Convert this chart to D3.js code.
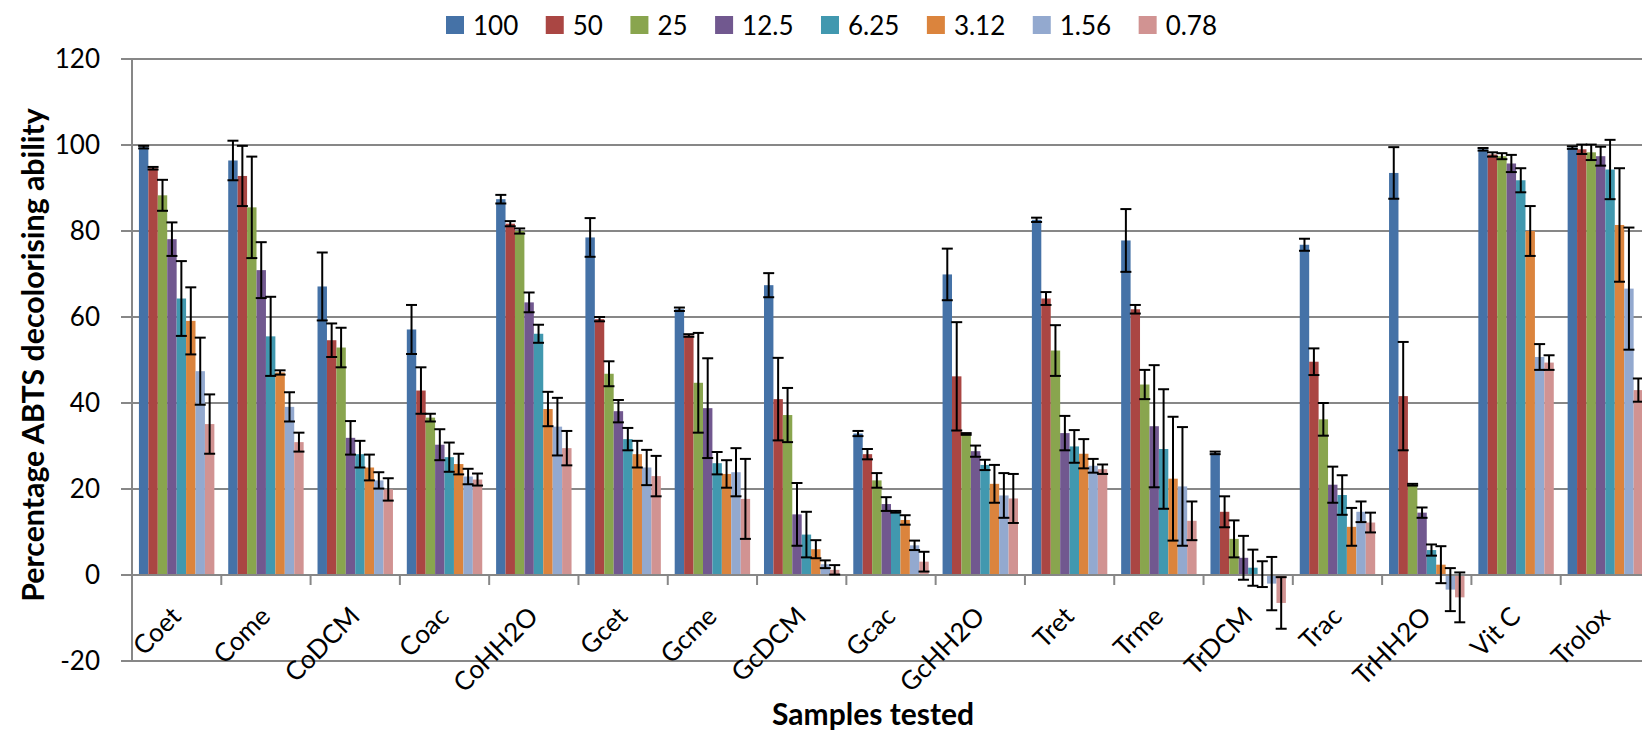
<!DOCTYPE html>
<html>
<head>
<meta charset="utf-8">
<script src="https://cdn.jsdelivr.net/npm/d3@7"></script>
<style>
  body { margin: 0; background: #fff; }
  svg { display: block; }
</style>
</head>
<body>
<div id="wrapper"></div>
<script>
// Samples (x categories) and concentrations (series)
const categories = ["Coet", "Come", "CoDCM", "Coac", "CoHH2O", "Gcet", "Gcme", "GcDCM", "Gcac",
    "GcHH2O", "Tret", "Trme", "TrDCM", "Trac", "TrHH2O", "Vit C", "Trolox"];
const seriesNames = ["100", "50", "25", "12.5", "6.25", "3.12", "1.56", "0.78"];
const yTicks = [-20, 0, 20, 40, 60, 80, 100, 120];

// mean values per concentration, one entry per sample
const mean100 = [99.5, 96.4, 67.1, 57.1, 87.4, 78.5, 61.8, 67.4, 32.9, 69.9, 82.6, 77.8, 28.4, 76.8, 93.5, 99.0, 99.4];
const mean50 = [94.6, 92.8, 54.6, 42.9, 81.7, 59.5, 55.7, 40.9, 28.1, 46.2, 64.3, 61.8, 14.7, 49.6, 41.6, 97.8, 99.0];
const mean25 = [88.3, 85.5, 52.9, 36.6, 80.0, 46.8, 44.7, 37.2, 22.0, 32.8, 52.2, 44.3, 8.4, 36.2, 21.0, 97.4, 98.3];
const mean12_5 = [78.1, 70.9, 31.9, 30.3, 63.4, 38.1, 38.8, 14.1, 16.5, 28.8, 33.0, 34.6, 4.0, 21.0, 14.5, 95.7, 97.4];
const mean6_25 = [64.3, 55.5, 28.1, 27.4, 56.1, 31.6, 26.0, 9.4, 14.7, 25.6, 29.9, 29.3, 1.7, 18.6, 5.8, 91.8, 94.3];
const mean3_12 = [59.1, 47.1, 25.0, 25.8, 38.6, 28.1, 23.5, 6.0, 12.8, 21.2, 28.2, 22.4, 0.2, 11.2, 2.4, 80.0, 81.4];
const mean1_56 = [47.4, 39.1, 22.0, 22.9, 34.5, 25.0, 23.9, 2.5, 6.9, 18.5, 25.4, 20.6, -2.0, 14.7, -3.4, 50.7, 66.6];
const mean0_78 = [35.1, 30.9, 19.9, 22.2, 29.5, 23.0, 17.7, 1.2, 3.1, 17.8, 24.6, 12.6, -6.5, 12.2, -5.2, 49.4, 43.0];

// error bar half-widths
const err100 = [0.3, 4.6, 7.9, 5.7, 1.0, 4.5, 0.4, 2.8, 0.6, 6.0, 0.5, 7.3, 0.3, 1.4, 6.0, 0.3, 0.3];
const err50 = [0.3, 7.0, 3.9, 5.4, 0.6, 0.5, 0.3, 9.6, 1.2, 12.6, 1.5, 1.0, 3.6, 3.1, 12.6, 0.5, 1.1];
const err25 = [3.6, 11.8, 4.6, 0.9, 0.6, 2.9, 11.6, 6.3, 1.7, 0.2, 5.9, 3.4, 4.3, 3.8, 0.2, 0.7, 1.8];
const err12_5 = [3.9, 6.5, 3.9, 3.6, 2.3, 2.6, 11.6, 7.3, 1.6, 1.3, 4.0, 14.2, 5.1, 4.2, 1.2, 2.0, 2.2];
const err6_25 = [8.7, 9.2, 3.1, 3.4, 2.1, 2.6, 2.6, 5.3, 0.2, 1.2, 3.8, 13.9, 4.2, 4.6, 1.3, 2.8, 6.9];
const err3_12 = [7.8, 0.5, 3.0, 2.4, 4.0, 3.1, 3.2, 2.1, 1.1, 4.4, 3.4, 14.4, 3.0, 4.4, 4.3, 5.8, 13.2];
const err1_56 = [7.8, 3.4, 1.9, 1.8, 6.7, 4.1, 5.6, 0.9, 1.1, 5.2, 1.6, 13.8, 6.2, 2.4, 5.0, 3.0, 14.2];
const err0_78 = [6.9, 2.2, 2.6, 1.4, 4.0, 4.7, 9.3, 1.1, 2.3, 5.7, 1.1, 4.5, 6.0, 2.3, 5.8, 1.7, 2.7];

const means = [mean100, mean50, mean25, mean12_5, mean6_25, mean3_12, mean1_56, mean0_78];
const errs = [err100, err50, err25, err12_5, err6_25, err3_12, err1_56, err0_78];
const colors = ["#4572A7", "#AA4643", "#89A54E", "#71588F", "#4198AF", "#DB843D", "#93A9CF", "#D19392"];

const font = "Lato, 'Open Sans', sans-serif";

const dimension = {
    width: 1642,
    height: 732,
    plotLeft: 132,
    plotRight: 1650,   // plot runs past the picture edge, as in the original
    plotTop: 59,
    plotBottom: 661
};

const svg = d3.select("#wrapper").append("svg")
    .attr("width", dimension.width)
    .attr("height", dimension.height)
    .style("font-family", font);

const yScaler = d3.scaleLinear()
    .domain([-20, 120])
    .range([dimension.plotBottom, dimension.plotTop]);

const x0 = d3.scaleBand()
    .domain(categories)
    .range([dimension.plotLeft, dimension.plotRight]);

const x1 = d3.scaleBand()
    .domain(seriesNames)
    .range([0, x0.bandwidth()])
    .paddingOuter(0.735);

const color = d3.scaleOrdinal().domain(seriesNames).range(colors);

// gridlines
svg.append("g")
    .selectAll("line")
    .data(yTicks)
    .join("line")
    .attr("x1", dimension.plotLeft - 11)
    .attr("x2", dimension.plotRight)
    .attr("y1", d => yScaler(d))
    .attr("y2", d => yScaler(d))
    .attr("stroke", "#878787")
    .attr("stroke-width", 2);

// y axis labels
const yAxis = d3.axisLeft(yScaler)
    .tickValues(yTicks)
    .tickFormat(d => String(d))
    .tickSize(0)
    .tickPadding(32);

const yAxisG = svg.append("g")
    .attr("transform", `translate(${dimension.plotLeft},0)`)
    .call(yAxis);
yAxisG.select(".domain").remove();
yAxisG.selectAll("text")
    .style("font-family", font)
    .style("font-size", "26px")
    .attr("fill", "#000");

svg.append("line")
    .attr("x1", dimension.plotLeft).attr("x2", dimension.plotLeft)
    .attr("y1", dimension.plotTop).attr("y2", dimension.plotBottom)
    .attr("stroke", "#878787")
    .attr("stroke-width", 2);

// table for bars
const rows = [];
categories.forEach((c, i) => {
    seriesNames.forEach((s, j) => {
        rows.push({cat: c, ser: s, v: means[j][i], e: errs[j][i]});
    });
});

const y0 = yScaler(0);

svg.append("g")
    .selectAll("rect")
    .data(rows)
    .join("rect")
    .attr("x", d => x0(d.cat) + x1(d.ser))
    .attr("width", x1.bandwidth())
    .attr("y", d => Math.min(yScaler(d.v), y0))
    .attr("height", d => Math.abs(yScaler(d.v) - y0))
    .attr("fill", d => color(d.ser));

// x axis at zero
svg.append("line")
    .attr("x1", dimension.plotLeft).attr("x2", dimension.plotRight)
    .attr("y1", y0).attr("y2", y0)
    .attr("stroke", "#878787")
    .attr("stroke-width", 2);

svg.append("g")
    .selectAll("line")
    .data(categories.slice(1).concat(["_end"]))
    .join("line")
    .attr("x1", d => d === "_end" ? dimension.plotRight : x0(d))
    .attr("x2", d => d === "_end" ? dimension.plotRight : x0(d))
    .attr("y1", y0)
    .attr("y2", y0 + 10)
    .attr("stroke", "#878787")
    .attr("stroke-width", 2);

// error bars
const capHalf = 5.5;
const cx = d => x0(d.cat) + x1(d.ser) + x1.bandwidth() / 2;
const eb = svg.append("g")
    .attr("stroke", "#000")
    .attr("stroke-width", 2);

eb.selectAll("line.stem")
    .data(rows)
    .join("line")
    .attr("class", "stem")
    .attr("x1", cx)
    .attr("x2", cx)
    .attr("y1", d => yScaler(d.v + d.e))
    .attr("y2", d => yScaler(d.v - d.e));

eb.selectAll("line.capTop")
    .data(rows)
    .join("line")
    .attr("class", "capTop")
    .attr("x1", d => cx(d) - capHalf)
    .attr("x2", d => cx(d) + capHalf)
    .attr("y1", d => yScaler(d.v + d.e))
    .attr("y2", d => yScaler(d.v + d.e));

eb.selectAll("line.capBottom")
    .data(rows)
    .join("line")
    .attr("class", "capBottom")
    .attr("x1", d => cx(d) - capHalf)
    .attr("x2", d => cx(d) + capHalf)
    .attr("y1", d => yScaler(d.v - d.e))
    .attr("y2", d => yScaler(d.v - d.e));

// category labels, turned 45 degrees
const labelG = svg.append("g")
    .selectAll("g")
    .data(categories)
    .join("g")
    .attr("transform", d => "translate(" + (x0(d) + x0.bandwidth() / 2 + 6) + ",618)");

labelG.append("text")
    .attr("text-anchor", "end")
    .attr("transform", "rotate(-45)")
    .style("font-size", "26px")
    .text(d => d);

// axis titles
svg.append("text")
    .attr("text-anchor", "middle")
    .attr("transform", "translate(44, 355) rotate(-90)")
    .style("font-size", "30.3px")
    .style("font-weight", "bold")
    .text("Percentage ABTS decolorising ability");

svg.append("text")
    .attr("text-anchor", "middle")
    .attr("x", 873)
    .attr("y", 725)
    .style("font-size", "30px")
    .style("font-weight", "bold")
    .text("Samples tested");

// legend
const legend = svg.append("g");
let lx = 446;
seriesNames.forEach((s, j) => {
    legend.append("rect")
        .attr("x", lx)
        .attr("y", 16)
        .attr("width", 18)
        .attr("height", 18)
        .attr("fill", colors[j]);
    const t = legend.append("text")
        .attr("x", lx + 27)
        .attr("y", 35)
        .style("font-size", "26px")
        .text(s);
    lx += 27 + t.node().getComputedTextLength() + 27.5;
});
</script>
</body>
</html>
